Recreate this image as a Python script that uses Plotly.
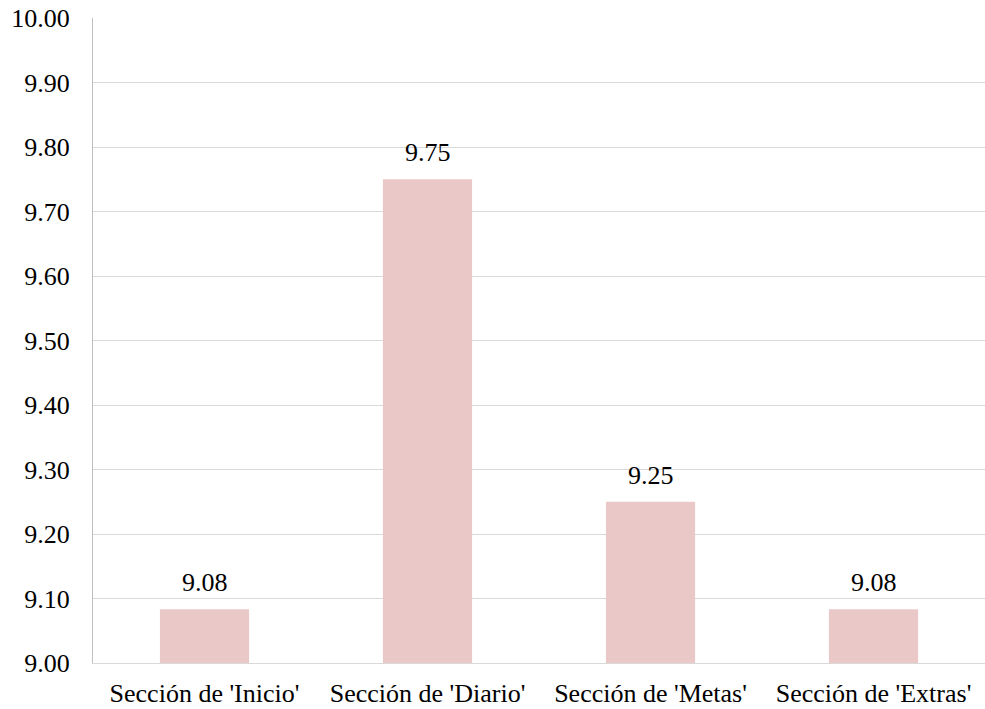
import plotly.graph_objects as go

categories = ["Sección de 'Inicio'", "Sección de 'Diario'", "Sección de 'Metas'", "Sección de 'Extras'"]
scores = [9.0833, 9.75, 9.25, 9.0833]
tick_vals = [9.0, 9.1, 9.2, 9.3, 9.4, 9.5, 9.6, 9.7, 9.8, 9.9, 10.0]

FONT = "Liberation Serif"

fig = go.Figure(go.Bar(
    x=categories,
    y=scores,
    marker=dict(color="#EBC8C8", line=dict(width=0)),
    width=0.4,
))

# value labels above each bar
for c, v in zip(categories, scores):
    fig.add_annotation(x=c, y=v, text=f"{v:.2f}", showarrow=False,
                       yanchor="bottom", yshift=10,
                       font=dict(family=FONT, size=26, color="#000000"))

fig.update_layout(
    width=985, height=709,
    margin=dict(l=93, r=0, t=18, b=46),
    paper_bgcolor="white", plot_bgcolor="white",
    showlegend=False,
    font=dict(family=FONT, size=26, color="#000000"),
)
fig.update_yaxes(range=[9.0, 10.0], tickvals=tick_vals,
                 ticktext=[f"{t:.2f}" for t in tick_vals],
                 tickfont=dict(family=FONT, size=26),
                 showgrid=True, gridcolor="#D9D9D9", gridwidth=1,
                 showline=True, linecolor="#BFBFBF", linewidth=1,
                 zeroline=False, ticks="", ticklabelstandoff=17)
fig.update_xaxes(showgrid=False, showline=True, linecolor="#D9D9D9",
                 tickfont=dict(family=FONT, size=26),
                 ticks="", ticklabelstandoff=7)

fig.write_html("out.html")
